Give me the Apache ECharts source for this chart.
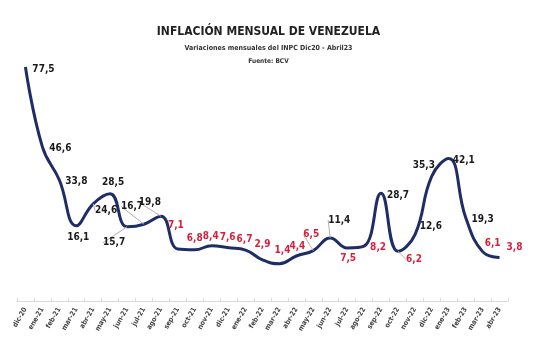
<!DOCTYPE html>
<html><head><meta charset="utf-8">
<script src="https://cdn.jsdelivr.net/npm/echarts@6/dist/echarts.min.js"></script>
<style>html,body{margin:0;padding:0;background:#fff}#c{width:537px;height:345px}</style>
</head><body><div id="c"></div>
<script>
var categories = ['dic-20','ene-21','feb-21','mar-21','abr-21','may-21','jun-21','jul-21','ago-21','sep-21','oct-21','nov-21','dic-21','ene-22','feb-22','mar-22','abr-22','may-22','jun-22','jul-22','ago-22','sep-22','oct-22','nov-22','dic-22','ene-23','feb-23','mar-23','abr-23'];
var values = [77.5,46.6,33.8,16.1,24.6,28.5,15.7,16.7,19.8,7.1,6.8,8.4,7.6,6.7,2.9,1.4,4.4,6.5,11.4,7.5,8.2,28.7,6.2,12.6,35.3,42.1,19.3,6.1,3.8];
// label placement (offset of label centre from point), leader flags
var labelOffsets = [[18,2],[18,1],[17,1],[2,12],[13,7],[3,-11],[-13,16],[-12,-18],[-11,-14],[-2,-24],[0,-11],[-1,-9],[-1,-10],[-1,-11],[0,-15],[3,-13],[1,-10],[-2,-16],[9,-18],[1,10],[14,1],[17,2],[16,8],[16,-8],[-8,-11],[15,2],[17,2],[10,-8],[15,-10]];
var leaders = [4,6,7,8,17,18,22];

var NARROW = '"Liberation Sans Narrow","DejaVu Sans Condensed",sans-serif';
var data = values.map(function(v,i){
  return {
    value: v,
    label: {color: v < 10 ? '#d61f3c' : '#1a1a1a'},
    labelLine: {show: leaders.indexOf(i) >= 0}
  };
});

var chart = echarts.init(document.getElementById('c'));
chart.setOption({
  animation: false,
  backgroundColor: '#fff',
  title: [
    {text: 'INFLACIÓN MENSUAL DE VENEZUELA', left: 'center', top: 21,
     textStyle: {fontFamily: NARROW, fontSize: 12, fontWeight: 'bold', color: '#222'}},
    {text: 'Variaciones mensuales del INPC Dic20 - Abril23', left: 'center', top: 40,
     textStyle: {fontFamily: NARROW, fontSize: 7, fontWeight: 'bold', color: '#333'}},
    {text: 'Fuente: BCV', left: 'center', top: 53,
     textStyle: {fontFamily: NARROW, fontSize: 6.5, fontWeight: 'bold', color: '#333'}}
  ],
  grid: {left: 17, right: 29, top: 58, bottom: 44, outerBoundsMode: 'none'},
  xAxis: {
    type: 'category', data: categories, boundaryGap: true,
    axisLine: {onZero: false, lineStyle: {color: '#d9d9d9', width: 1}},
    axisTick: {show: true, inside: true, length: 3, lineStyle: {color: '#d9d9d9'}},
    axisLabel: {rotate: 60, fontSize: 7, fontWeight: 'bold', color: '#444', margin: 7, interval: 0, fontFamily: NARROW}
  },
  yAxis: {type: 'value', min: -13, max: 81, show: false, splitLine: {show: false}},
  series: [{
    type: 'line', data: data, smooth: 0.45, symbol: 'circle', symbolSize: 0, showSymbol: true,
    itemStyle: {color: 'rgba(0,0,0,0)'},
    lineStyle: {color: '#1f2d66', width: 3},
    label: {
      show: true, position: 'inside', fontFamily: NARROW, fontSize: 10, fontWeight: 'bold',
      formatter: function(p){ return String(p.value).replace('.', ','); }
    },
    labelLine: {lineStyle: {color: '#b0b0b0', width: 1}},
    labelLayout: function(p){
      var o = labelOffsets[p.dataIndex];
      return {dx: o[0], dy: o[1], hideOverlap: false};
    }
  }]
});
</script></body></html>
